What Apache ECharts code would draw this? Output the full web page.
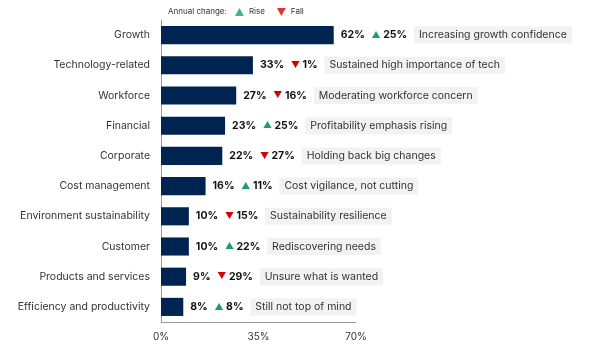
<!DOCTYPE html>
<html>
<head>
<meta charset="utf-8">
<script src="https://cdn.jsdelivr.net/npm/echarts@6/dist/echarts.min.js"></script>
<style>
  html, body { margin: 0; padding: 0; background: #fff; }
  #main { width: 596px; height: 350px; }
</style>
</head>
<body>
<div id="main"></div>
<script>
// categories, top to bottom
var categories = ['Growth', 'Technology-related', 'Workforce', 'Financial', 'Corporate',
    'Cost management', 'Environment sustainability', 'Customer', 'Products and services',
    'Efficiency and productivity'];
// share of respondents (%)
var shares = [62, 33, 27, 23, 22, 16, 10, 10, 9, 8];
// annual change (percentage points), sign gives rise / fall
var changes = [25, -1, -16, 25, -27, 11, -15, 22, -29, 8];
// annotations
var notes = ['Increasing growth confidence', 'Sustained high importance of tech',
    'Moderating workforce concern', 'Profitability emphasis rising', 'Holding back big changes',
    'Cost vigilance, not cutting', 'Sustainability resilience', 'Rediscovering needs',
    'Unsure what is wanted', 'Still not top of mind'];
var xTicks = [0, 35, 70];

var FONT = 'Inter, "Open Sans", sans-serif';
var GREEN = '#1a9e6e', RED = '#d40000', NAVY = '#002451';

var chart = echarts.init(document.getElementById('main'));

//标签格式
var labelFmt = function (p) {
    var i = p.dataIndex, c = changes[i];
    var arrow = c >= 0 ? '{up|▲}' : '{dn|▼}';
    return '{v|' + shares[i] + '%}  ' + arrow + '{c| ' + Math.abs(c) + '%}  {n|' + notes[i] + '}';
};

chart.setOption({
    animation: false,
    textStyle: {fontFamily: FONT},
    title: {
        text: 'Annual change:', left: 163, top: 3,
        textStyle: {fontSize: 8, fontWeight: 'normal', color: '#333', fontFamily: FONT}
    },
    legend: {
        left: 230, top: 3, itemGap: 12, itemWidth: 9, itemHeight: 8,
        textStyle: {fontSize: 8, color: '#333', fontFamily: FONT},
        data: [
            {name: 'Rise', icon: 'path://M5,0 L10,9 L0,9 Z', itemStyle: {color: GREEN}},
            {name: 'Fall', icon: 'path://M0,0 L10,0 L5,9 Z', itemStyle: {color: RED}}
        ]
    },
    grid: {left: 161, right: 240, top: 20, bottom: 28, containLabel: false},
    xAxis: {
        type: 'value', min: 0, max: 70, interval: 35,
        axisLine: {show: true, lineStyle: {color: '#999'}},
        axisTick: {show: false},
        splitLine: {show: false},
        axisLabel: {
            color: '#333', fontSize: 10, margin: 10, fontFamily: FONT,
            formatter: function (v) { return xTicks.indexOf(v) >= 0 ? v + '%' : ''; }
        }
    },
    yAxis: {
        type: 'category', inverse: true, data: categories,
        axisLine: {show: true, lineStyle: {color: '#999'}},
        axisTick: {show: false},
        axisLabel: {color: '#333', fontSize: 10.5, margin: 11, fontFamily: FONT}
    },
    series: [
        {
            type: 'bar', data: shares, barCategoryGap: '40%',
            itemStyle: {color: NAVY},
            label: {
                show: true, position: 'right', distance: 7,
                formatter: labelFmt,
                rich: {
                    v: {fontWeight: 'bold', fontSize: 10.5, color: '#111', fontFamily: FONT},
                    up: {color: GREEN, fontSize: 9},
                    dn: {color: RED, fontSize: 9},
                    c: {fontWeight: 'bold', fontSize: 10.5, color: '#111', fontFamily: FONT},
                    n: {fontSize: 10.5, color: '#333', backgroundColor: '#f2f2f2',
                        padding: [3, 5, 3, 5], fontFamily: FONT}
                }
            }
        },
        {name: 'Rise', type: 'scatter', data: []},
        {name: 'Fall', type: 'scatter', data: []}
    ]
});
</script>
</body>
</html>
